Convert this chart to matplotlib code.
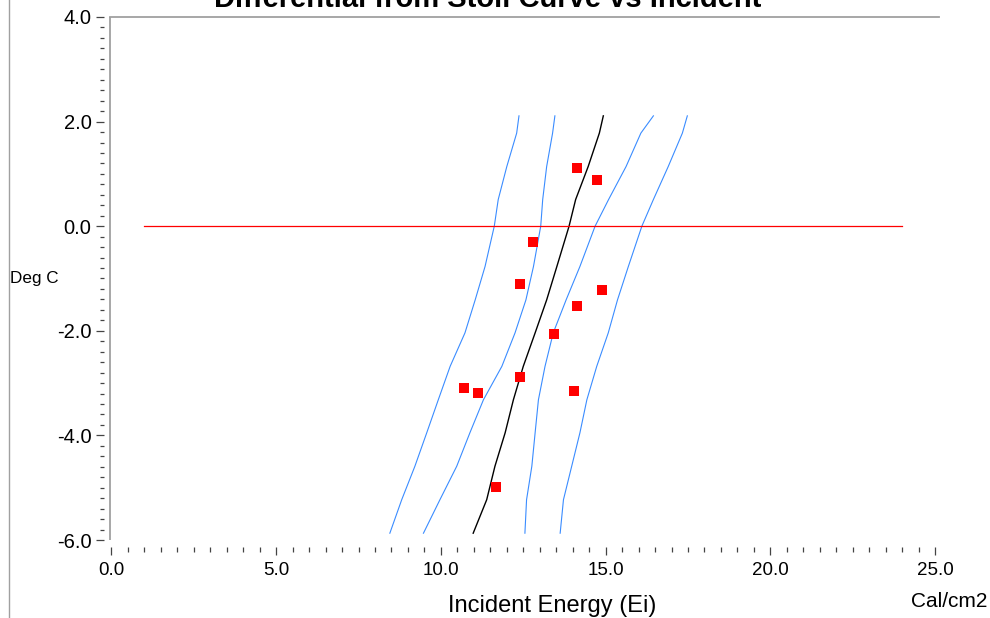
import matplotlib
matplotlib.use("Agg")
import matplotlib.pyplot as plt
from matplotlib.ticker import MultipleLocator, FormatStrFormatter
from matplotlib.lines import Line2D

plt.rcParams['font.family'] = ['Liberation Sans', 'DejaVu Sans']

# ---- data ----
title = "Differential from Stoll Curve vs Incident"
x_label = "Incident Energy (Ei)"
x_unit = "Cal/cm2"
y_label = "Deg C"

# y levels at which the curves were read
curve_y = [2.11, 1.78, 1.14, 0.51, 0.0, -0.77, -1.41, -2.04, -2.68, -3.32, -3.95, -4.59, -5.23, -5.87]
stoll_x = [14.93, 14.81, 14.47, 14.09, 13.89, 13.52, 13.21, 12.86, 12.50, 12.20, 11.95, 11.64, 11.39, 10.98]
outer_left_x = [12.37, 12.30, 12.00, 11.74, 11.62, 11.34, 11.04, 10.73, 10.28, 9.92, 9.57, 9.21, 8.81, 8.45]
inner_left_x = [13.46, 13.39, 13.21, 13.09, 13.03, 12.81, 12.58, 12.25, 11.85, 11.29, 10.88, 10.48, 9.97, 9.47]
inner_right_x = [16.45, 16.07, 15.62, 15.09, 14.68, 14.22, 13.80, 13.41, 13.16, 12.96, 12.86, 12.76, 12.60, 12.55]
outer_right_x = [17.48, 17.33, 16.90, 16.45, 16.10, 15.69, 15.36, 15.08, 14.73, 14.43, 14.22, 13.97, 13.72, 13.62]

points_x = [14.14, 14.75, 12.81, 12.40, 14.88, 14.14, 13.43, 12.40, 10.71, 11.14, 14.04, 11.68]
points_y = [1.11, 0.88, -0.31, -1.10, -1.22, -1.52, -2.06, -2.88, -3.09, -3.19, -3.15, -4.99]

zero_line_x = [1.0, 24.0]
zero_line_y = [0.0, 0.0]

W, H = 990, 618
fig = plt.figure(figsize=(W / 100, H / 100), dpi=100)
ax = fig.add_axes([110 / W, 1 - 540 / H, (939 - 110) / W, (540 - 17) / H])

blue = '#3a8cff'
for xs in (outer_left_x, inner_left_x, inner_right_x, outer_right_x):
    ax.plot(xs, curve_y, color=blue, lw=0.8)
ax.plot(stoll_x, curve_y, color='black', lw=1.0)
ax.plot(zero_line_x, zero_line_y, color='red', lw=0.9)
ax.plot(points_x, points_y, linestyle='none', marker='s', markersize=7.7,
        markerfacecolor='#ff0000', markeredgecolor='#ff0000', markeredgewidth=0)

ax.set_xlim(-0.045, 25.12)
ax.set_ylim(-6.0, 4.0)

ax.spines['right'].set_visible(False)
ax.spines['bottom'].set_position(('outward', 5))
ax.spines['bottom'].set_color('none')
ax.spines['left'].set_position(('outward', 4))
ax.spines['left'].set_color('none')
ax.spines['top'].set_color('#a0a0a0')
ax.spines['top'].set_linewidth(1.3)
# visible left frame line at the plot edge
ax.plot([0, 0], [0, 1], transform=ax.transAxes, color='#a0a0a0', lw=1.3,
        clip_on=False, solid_capstyle='butt')

ax.xaxis.set_major_locator(MultipleLocator(5))
ax.xaxis.set_minor_locator(MultipleLocator(0.5))
ax.yaxis.set_major_locator(MultipleLocator(2))
ax.yaxis.set_minor_locator(MultipleLocator(0.2))
ax.xaxis.set_major_formatter(FormatStrFormatter('%.1f'))
ax.yaxis.set_major_formatter(FormatStrFormatter('%.1f'))

tc = '#444444'
ax.tick_params(axis='x', which='major', direction='out', length=6, width=0.9, color=tc,
               pad=5, labelsize=13.5, top=False)
ax.tick_params(axis='x', which='minor', direction='out', length=3.6, width=0.9, color=tc, top=False)
ax.tick_params(axis='y', which='major', direction='out', length=5.5, width=0.9, color=tc,
               pad=3.8, labelsize=14.5, right=False)
ax.tick_params(axis='y', which='minor', direction='out', length=3.1, width=0.9, color=tc, right=False)

fig.text(488 / W, 1 - 7 / H, title, ha='center', va='baseline', fontsize=21,
         fontweight='bold')
fig.text(552 / W, 1 - 612 / H, x_label, ha='center', va='baseline', fontsize=17)
fig.text(987 / W, 1 - 607 / H, x_unit, ha='right', va='baseline', fontsize=15)
fig.text(10 / W, 1 - 283 / H, y_label, ha='left', va='baseline', fontsize=12.3)

fig.add_artist(Line2D([8.5 / W, 8.5 / W], [0, 1], transform=fig.transFigure,
                      color='#a0a0a0', lw=1.0))

fig.savefig('out.png', dpi=100)
